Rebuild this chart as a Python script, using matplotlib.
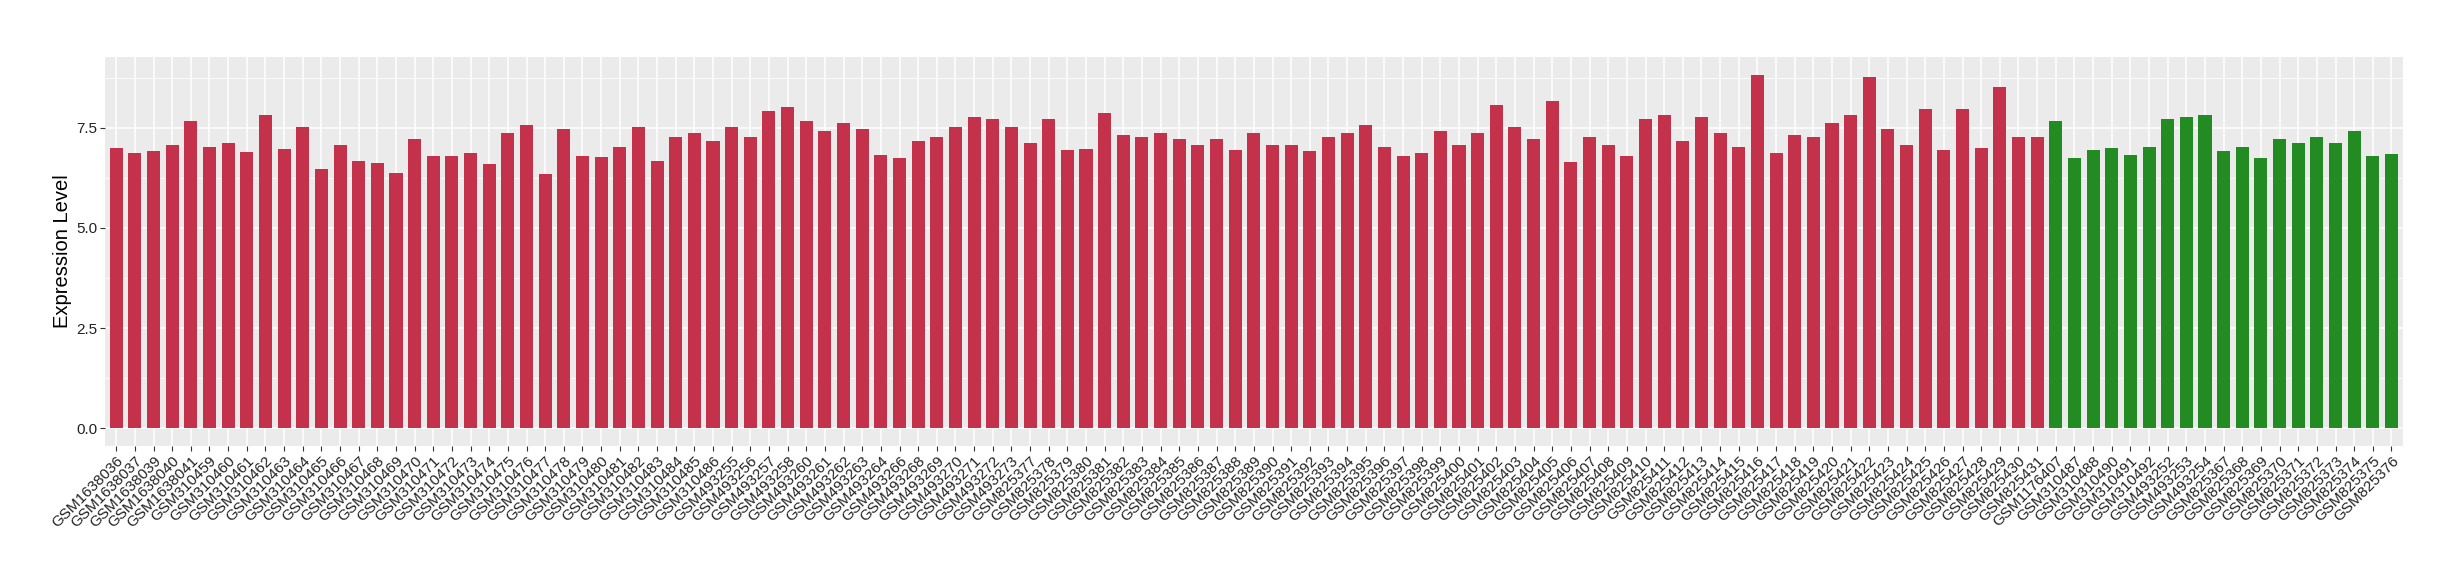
import matplotlib
matplotlib.use("Agg")
import matplotlib.pyplot as plt
import numpy as np

plt.rcParams['font.family'] = ['Liberation Sans', 'DejaVu Sans']

# samples of the first group (red)
red_samples = [
    'GSM1638036', 'GSM1638037', 'GSM1638039', 'GSM1638040', 'GSM1638041',
    'GSM310459', 'GSM310460', 'GSM310461', 'GSM310462', 'GSM310463', 'GSM310464',
    'GSM310465', 'GSM310466', 'GSM310467', 'GSM310468', 'GSM310469', 'GSM310470',
    'GSM310471', 'GSM310472', 'GSM310473', 'GSM310474', 'GSM310475', 'GSM310476',
    'GSM310477', 'GSM310478', 'GSM310479', 'GSM310480', 'GSM310481', 'GSM310482',
    'GSM310483', 'GSM310484', 'GSM310485', 'GSM310486',
    'GSM493255', 'GSM493256', 'GSM493257', 'GSM493258', 'GSM493260', 'GSM493261',
    'GSM493262', 'GSM493263', 'GSM493264', 'GSM493266', 'GSM493268', 'GSM493269',
    'GSM493270', 'GSM493271', 'GSM493272', 'GSM493273',
    'GSM825377', 'GSM825378', 'GSM825379', 'GSM825380', 'GSM825381', 'GSM825382',
    'GSM825383', 'GSM825384', 'GSM825385', 'GSM825386', 'GSM825387', 'GSM825388',
    'GSM825389', 'GSM825390', 'GSM825391', 'GSM825392', 'GSM825393', 'GSM825394',
    'GSM825395', 'GSM825396', 'GSM825397', 'GSM825398', 'GSM825399', 'GSM825400',
    'GSM825401', 'GSM825402', 'GSM825403', 'GSM825404', 'GSM825405', 'GSM825406',
    'GSM825407', 'GSM825408', 'GSM825409', 'GSM825410', 'GSM825411', 'GSM825412',
    'GSM825413', 'GSM825414', 'GSM825415', 'GSM825416', 'GSM825417', 'GSM825418',
    'GSM825419', 'GSM825420', 'GSM825421', 'GSM825422', 'GSM825423', 'GSM825424',
    'GSM825425', 'GSM825426', 'GSM825427', 'GSM825428', 'GSM825429', 'GSM825430',
    'GSM825431',
]
red_values = [
    6.99, 6.86, 6.91, 7.06, 7.68,
    7.01, 7.11, 6.89, 7.83, 6.96, 7.51,
    6.46, 7.06, 6.66, 6.61, 6.36, 7.21,
    6.79, 6.79, 6.86, 6.59, 7.36, 7.58,
    6.34, 7.46, 6.79, 6.76, 7.03, 7.51,
    6.66, 7.26, 7.36, 7.18,
    7.53, 7.28, 7.93, 8.01, 7.66, 7.43,
    7.63, 7.46, 6.81, 6.74, 7.16, 7.26,
    7.51, 7.76, 7.73, 7.51,
    7.11, 7.73, 6.94, 6.96, 7.86, 7.33,
    7.28, 7.38, 7.21, 7.08, 7.21, 6.94,
    7.38, 7.08, 7.08, 6.91, 7.26, 7.38,
    7.58, 7.03, 6.79, 6.86, 7.43, 7.06,
    7.38, 8.08, 7.51, 7.21, 8.18, 6.64,
    7.26, 7.06, 6.79, 7.73, 7.83, 7.16,
    7.76, 7.38, 7.03, 8.83, 6.86, 7.31,
    7.28, 7.63, 7.83, 8.78, 7.48, 7.08,
    7.98, 6.94, 7.98, 6.99, 8.53, 7.26,
    7.28,
]

# samples of the second group (green)
green_samples = [
    'GSM1176407', 'GSM310487', 'GSM310488', 'GSM310490', 'GSM310491', 'GSM310492',
    'GSM493252', 'GSM493253', 'GSM493254',
    'GSM825367', 'GSM825368', 'GSM825369', 'GSM825370', 'GSM825371', 'GSM825372',
    'GSM825373', 'GSM825374', 'GSM825375', 'GSM825376',
]
green_values = [
    7.68, 6.74, 6.94, 6.99, 6.81, 7.03,
    7.73, 7.76, 7.81,
    6.91, 7.01, 6.74, 7.21, 7.13, 7.26,
    7.13, 7.41, 6.79, 6.84,
]

yticks = [0.0, 2.5, 5.0, 7.5]
red_color = '#C3314A'
green_color = '#228B22'

samples = red_samples + green_samples
values = red_values + green_values
bar_colors = [red_color] * len(red_samples) + [green_color] * len(green_samples)
x = np.arange(len(samples))

fig = plt.figure(figsize=(24.6, 5.8), dpi=100)
ax = fig.add_axes([0.0427, 0.231, 0.9340, 0.671])
ax.set_facecolor('#EBEBEB')

ax.bar(x, values, width=0.7, color=bar_colors, zorder=3)

# ggplot-like 5% expansion on the value axis
ymax = max(values)
ax.set_ylim(-0.05 * ymax, ymax * 1.05)
ax.set_xlim(-0.6, len(samples) - 0.4)

ax.set_yticks(yticks)
ax.set_yticklabels([f'{t:.1f}' for t in yticks])
ax.set_yticks([t + 1.25 for t in yticks], minor=True)
ax.set_xticks(x)
ax.set_xticklabels(samples, rotation=45, ha='right', rotation_mode='anchor')

ax.grid(which='major', color='white', linewidth=1.1, zorder=0)
ax.grid(which='minor', axis='y', color='white', linewidth=0.55, zorder=0)
ax.set_axisbelow(True)

for s in ax.spines.values():
    s.set_visible(False)

ax.tick_params(axis='both', which='major', length=3.5, width=0.8, color='#333333',
               labelcolor='#222222', labelsize=11, pad=2)
ax.tick_params(axis='y', which='minor', length=0)

ax.set_ylabel('Expression Level', fontsize=14.5, labelpad=3)

fig.savefig('out.png', dpi=100)
